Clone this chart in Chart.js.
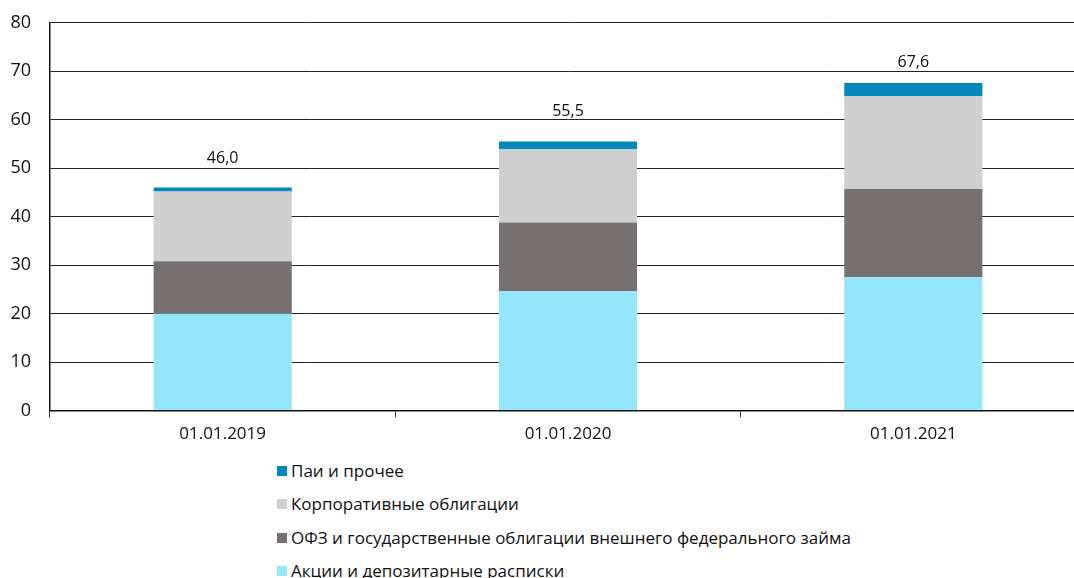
<!DOCTYPE html>
<html><head><meta charset="utf-8">
<script src="https://cdn.jsdelivr.net/npm/chart.js@4"></script>
<style>
html,body{margin:0;padding:0;background:#fff;overflow:hidden;width:1074px;height:578px}
#wrap{position:absolute;left:0;top:-7px;width:1086px;height:457px}
#legend{position:absolute;left:277px;top:461px;font-family:"Open Sans",sans-serif;font-size:17px;color:#111}
#legend div{line-height:20px;white-space:nowrap;display:flex;align-items:center;height:20px;margin-bottom:13.3px}
#legend span.b{display:inline-block;width:10px;height:10px;margin-right:4px}
</style></head><body>
<div id="wrap"><canvas id="c"></canvas></div>
<div id="legend"></div>
<script>
const categories = ["01.01.2019","01.01.2020","01.01.2021"];
const shares   = [20.0, 24.6, 27.5];   // Акции и депозитарные расписки
const ofz      = [10.8, 14.2, 18.2];   // ОФЗ и государственные облигации внешнего федерального займа
const corp     = [14.4, 15.1, 19.2];   // Корпоративные облигации
const funds    = [0.8, 1.6, 2.7];      // Паи и прочее
const totals   = ["46,0","55,5","67,6"];
const yTicks   = [0,10,20,30,40,50,60,70,80];
const names    = ["Акции и депозитарные расписки","ОФЗ и государственные облигации внешнего федерального займа","Корпоративные облигации","Паи и прочее"];

const seriesColors = ["#94E6FC","#767170","#D0CFD0","#0089BA"];
const seriesData = [shares, ofz, corp, funds];
const labelGap = [21, 22, 12];

const totalLabels = {
  id:'totalLabels',
  afterDatasetsDraw(chart){
    const ctx = chart.ctx;
    const y = chart.scales.y;
    const last = chart.getDatasetMeta(chart.data.datasets.length-1);
    ctx.save();
    ctx.font = '16px "Open Sans", sans-serif';
    ctx.fillStyle = '#111';
    ctx.textAlign = 'center';
    ctx.textBaseline = 'bottom';
    categories.forEach((c,i)=>{
      const sum = seriesData.reduce((s,a)=>s+a[i],0);
      ctx.fillText(totals[i], last.data[i].x, y.getPixelForValue(sum) - labelGap[i]);
    });
    ctx.restore();
  }
};

new Chart(document.getElementById('c'), {
  type:'bar',
  data:{
    labels:categories,
    datasets: names.map((n,i)=>({label:n,data:seriesData[i],backgroundColor:seriesColors[i],borderWidth:0,categoryPercentage:0.4,barPercentage:1}))
  },
  options:{
    responsive:true, maintainAspectRatio:false, animation:false,
    layout:{padding:{top:6,left:0,right:0,bottom:0}},
    plugins:{legend:{display:false},tooltip:{enabled:false}},
    scales:{
      x:{stacked:true,
         grid:{display:true,offset:true,drawOnChartArea:false,drawTicks:true,tickLength:7,color:'#333'},
         border:{display:true,color:'#111',width:1.5},
         ticks:{color:'#111',font:{family:'"Open Sans", sans-serif',size:17},padding:6}},
      y:{stacked:true,min:0,max:80,
         afterBuildTicks(s){ s.ticks = yTicks.map(v=>({value:v})); },
         afterFit(s){ s.width = 50; },
         grid:{color:'#222',lineWidth:1,drawTicks:false},
         border:{display:true,color:'#111',width:1.5},
         ticks:{color:'#111',font:{family:'"Open Sans", sans-serif',size:18},padding:19}}
    }
  },
  plugins:[totalLabels]
});

const lg = document.getElementById('legend');
for (let i=names.length-1;i>=0;i--){
  const d = document.createElement('div');
  d.innerHTML = '<span class="b" style="background:'+seriesColors[i]+'"></span><span>'+names[i]+'</span>';
  lg.appendChild(d);
}
</script>
</body></html>
